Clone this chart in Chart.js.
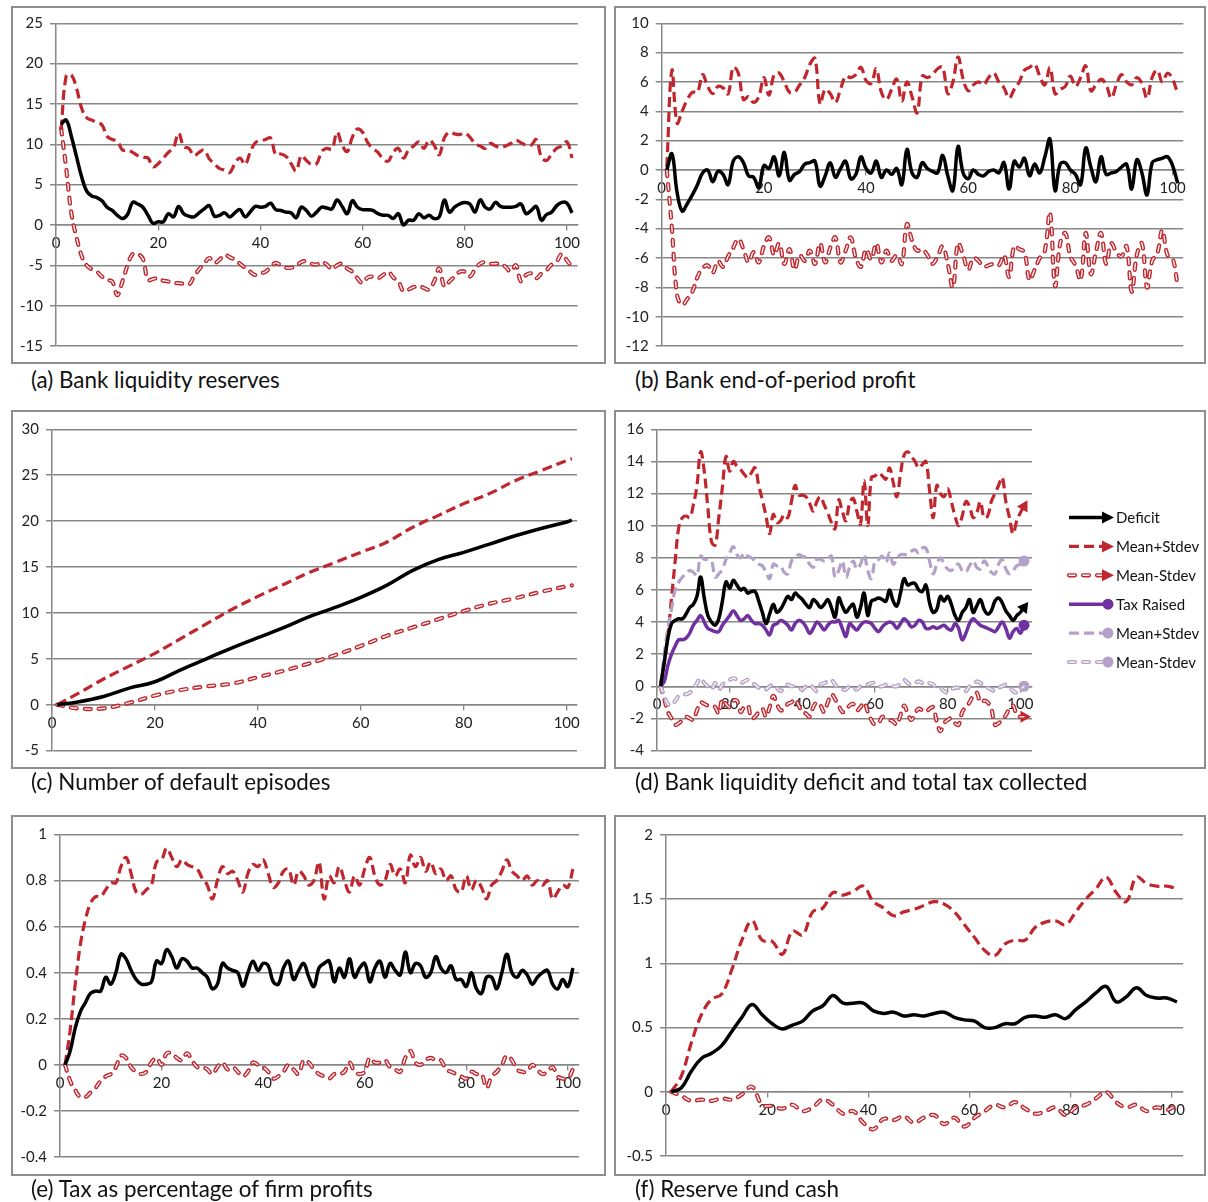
<!DOCTYPE html>
<html>
<head>
<meta charset="utf-8">
<script src="https://cdn.jsdelivr.net/npm/chart.js@4.4.1/dist/chart.umd.min.js"></script>
<style>
body{margin:0;background:#fff;width:1208px;height:1202px;position:relative;overflow:hidden;font-family:Lato,"Open Sans",sans-serif}
.box{position:absolute;border:2px solid #8e8e8e;box-sizing:border-box}
canvas{position:absolute}
.cap{position:absolute;font-size:22.4px;line-height:26px;color:#111;white-space:nowrap}
</style>
</head>
<body>
<script>
// time steps of the simulation
const steps = Array.from({length: 101}, (_, i) => i + 1);
const stepsOdd = steps.filter(s => s % 2 === 1);
const stepsC = [1, 5, 10, 15, 20, 25, 30, 35, 40, 45, 50, 55, 60, 65, 70, 75, 80, 85, 90, 95, 100, 101];
const xTicks = [0, 20, 40, 60, 80, 100];

const captions = ['(a) Bank liquidity reserves', '(b) Bank end-of-period profit', '(c) Number of default episodes',
  '(d) Bank liquidity deficit and total tax collected', '(e) Tax as percentage of firm profits', '(f) Reserve fund cash'];
const legendLabels = ['Deficit', 'Mean+Stdev', 'Mean-Stdev', 'Tax Raised', 'Mean+Stdev', 'Mean-Stdev'];

// (a) bank liquidity reserves
const aMean = [12.5, 13.0, 11.0, 8.5, 6.0, 4.2, 3.6, 3.4, 3.0, 2.2,
  1.8, 1.2, 0.8, 1.3, 2.8, 2.6, 2.2, 1.2, 0.2, 0.4,
  0.4, 1.4, 1.0, 2.3, 1.4, 1.1, 1.0, 1.5, 2.0, 2.4,
  1.1, 1.2, 1.5, 1.0, 1.5, 1.9, 1.0, 1.6, 2.3, 2.2,
  2.3, 2.7, 1.9, 1.8, 1.6, 1.5, 0.9, 2.2, 1.8, 1.1,
  1.6, 2.2, 2.1, 2.0, 3.1, 2.3, 1.4, 3.0, 2.2, 1.9,
  1.9, 1.8, 1.4, 1.2, 1.2, 0.8, 1.4, 0.0, 0.6, 0.6,
  1.4, 0.9, 1.2, 0.8, 1.0, 3.1, 1.6, 2.2, 2.6, 2.8,
  2.6, 1.6, 3.1, 2.2, 2.0, 2.8, 2.3, 2.2, 2.2, 2.3,
  2.6, 1.4, 1.8, 2.3, 0.6, 1.3, 1.6, 2.4, 2.8, 2.7,
  1.5];
const aPlus = [11.8, 18.5, 18.6, 17.0, 14.5, 13.3, 13.0, 12.7, 12.4, 11.0,
  10.6, 10.4, 9.3, 9.3, 9.0, 8.6, 8.4, 8.3, 7.2, 7.6,
  8.3, 9.0, 9.6, 11.4, 9.7, 9.5, 8.6, 9.0, 9.3, 8.2,
  7.6, 7.0, 6.8, 6.5, 7.6, 8.3, 7.5, 9.0, 10.2, 10.4,
  10.6, 10.8, 8.7, 8.8, 8.5, 7.6, 6.7, 8.6, 8.0, 7.5,
  7.6, 9.1, 9.5, 9.4, 11.5, 9.9, 9.1, 10.9, 11.9, 11.5,
  10.2, 9.5, 9.0, 8.2, 7.9, 9.0, 9.5, 8.3, 9.3, 9.8,
  10.3, 9.5, 10.5, 9.9, 8.7, 10.8, 11.5, 11.3, 11.2, 11.4,
  10.9, 10.1, 9.8, 9.5, 10.1, 9.8, 9.6, 9.8, 10.1, 10.5,
  10.2, 9.9, 9.9, 10.6, 8.4, 8.0, 8.8, 9.5, 9.8, 10.3,
  8.3];
const aMinus = [12.0, 7.0, 1.5, -1.5, -3.8, -5.0, -5.5, -5.8, -6.4, -6.8,
  -7.0, -8.7, -7.0, -5.0, -3.6, -3.6, -4.2, -6.8, -6.7, -6.6,
  -6.9, -7.0, -7.2, -7.2, -7.3, -7.4, -6.4, -5.5, -4.8, -4.1,
  -4.7, -4.3, -3.7, -4.0, -4.3, -4.8, -5.3, -5.8, -6.2, -6.0,
  -5.8, -5.2, -4.7, -5.0, -5.3, -5.3, -5.1, -4.6, -4.5, -4.8,
  -4.9, -4.6, -4.9, -5.5, -5.0, -4.8, -5.4, -5.8, -6.6, -7.2,
  -6.5, -6.4, -6.6, -6.2, -5.8, -6.5, -7.0, -8.2, -8.0, -7.7,
  -7.6, -7.8, -8.0, -7.0, -5.4, -7.6, -7.0, -6.4, -5.8, -5.8,
  -6.4, -5.5, -4.8, -4.6, -4.8, -4.8, -4.8, -5.2, -5.8, -5.0,
  -7.0, -6.2, -6.0, -6.6, -6.0, -5.6, -4.9, -4.5, -3.6, -4.4,
  -5.2];

// (b) bank end-of-period profit
const bMean = [0.0, 1.1, -1.5, -2.8, -2.3, -1.7, -1.0, -0.2, 0.0, -0.8,
  -0.1, -0.3, -1.0, 0.6, 0.9, 0.5, -0.4, -0.5, -1.2, 0.3,
  0.1, 0.9, -0.4, 1.2, -0.7, -0.3, -0.1, 0.4, 0.5, 0.6,
  -1.1, -0.4, 0.5, -0.5, 0.1, 0.6, -0.6, -0.3, 0.9, 0.1,
  -0.2, 0.6, -0.5, 0.0, -0.3, 0.1, -1.0, 1.4, -0.2, -0.5,
  0.5, 0.1, -0.1, -0.2, 1.0, -0.4, -1.4, 1.6, -0.2, -0.6,
  0.0, -0.3, -0.4, -0.1, 0.0, -0.2, 0.5, -1.3, 0.6, 0.2,
  0.8, -0.4, 0.4, -0.2, 0.9, 2.1, -1.4, 0.4, 0.5, 0.0,
  -0.3, -1.0, 1.5, 0.2, -0.8, 0.9, -0.3, -0.2, -0.1, 0.2,
  0.4, -1.3, 0.7, -0.2, -1.7, 0.5, 0.7, 0.8, 0.9, 0.3,
  -0.9];
const bPlus = [0.2, 6.8, 3.2, 4.0, 4.8, 5.3, 5.3, 6.5, 5.7, 5.2,
  5.7, 5.6, 5.2, 7.0, 6.6, 4.8, 5.0, 4.6, 5.0, 6.3,
  5.1, 6.5, 6.6, 6.0, 5.3, 5.3, 5.8, 6.3, 7.2, 7.6,
  4.5, 5.5, 5.2, 4.6, 5.5, 6.4, 6.3, 6.5, 7.0, 6.1,
  5.9, 6.9, 5.3, 4.8, 5.5, 6.2, 4.7, 6.0, 5.0, 3.9,
  6.4, 6.3, 6.5, 6.9, 7.0, 5.2, 6.0, 7.7, 6.2, 5.4,
  5.8, 6.0, 5.8, 6.3, 6.6, 6.0, 5.6, 4.9, 5.5, 6.0,
  6.8, 7.0, 7.2, 6.4, 5.8, 7.0, 5.2, 5.5, 5.7, 6.4,
  5.7, 6.3, 7.1, 5.4, 5.8, 6.2, 5.8, 4.9, 5.8, 6.5,
  6.0, 5.8, 6.3, 5.9, 4.9, 6.3, 6.8, 6.0, 6.6, 6.2,
  5.2];
const bMinus = [0.0, -4.0, -8.5, -9.2, -8.8, -8.3, -7.3, -6.7, -6.5, -7.0,
  -6.2, -6.6, -5.9, -5.3, -4.7, -5.4, -6.3, -5.6, -6.3, -5.2,
  -4.6, -5.8, -5.0, -6.4, -5.4, -6.8, -5.8, -6.2, -5.5, -6.4,
  -5.0, -6.3, -5.3, -4.6, -6.3, -5.5, -4.6, -6.0, -6.6, -5.4,
  -6.1, -5.0, -6.3, -5.5, -6.2, -5.8, -6.4, -3.7, -4.8, -5.5,
  -5.4, -5.8, -6.4, -5.9, -5.2, -6.4, -8.0, -5.0, -5.8, -6.8,
  -6.0, -6.2, -6.6, -6.5, -6.4, -6.5, -5.8, -7.3, -5.2, -5.4,
  -5.6, -7.5, -6.8, -6.0, -5.5, -2.9, -7.9, -5.0, -4.3, -5.9,
  -6.5, -7.5, -4.3, -7.1, -5.6, -4.3, -6.4, -5.0, -5.6, -5.9,
  -5.2, -8.3, -5.8, -5.0, -8.0, -6.2, -5.7, -4.1, -5.8, -6.0,
  -7.9];

// (c) number of default episodes (smooth, sampled every 5 steps)
const cMean = [0.0, 0.3, 0.9, 1.8, 2.5, 3.8, 5.0, 6.2, 7.3, 8.4, 9.6, 10.6, 11.7, 13.0, 14.6, 15.8, 16.6, 17.5, 18.4, 19.2, 19.9, 20.1];
const cPlus = [0.0, 1.2, 2.8, 4.2, 5.6, 7.2, 8.8, 10.4, 11.8, 13.1, 14.4, 15.5, 16.6, 17.7, 19.3, 20.6, 21.9, 23.0, 24.4, 25.5, 26.6, 26.8];
const cMinus = [0.0, -0.4, -0.4, 0.2, 1.0, 1.6, 2.0, 2.3, 3.0, 3.7, 4.5, 5.4, 6.4, 7.5, 8.4, 9.3, 10.2, 11.0, 11.6, 12.3, 12.9, 13.0];

// (d) liquidity deficit and tax raised
const dDeficit = [0.0, 1.5, 3.0, 3.9, 4.1, 4.2, 4.2, 4.5, 4.9, 5.1,
  5.6, 6.8, 5.5, 4.4, 4.0, 3.8, 4.2, 5.3, 6.5, 6.1,
  6.6, 6.3, 6.0, 6.1, 5.8, 5.9, 5.9, 5.3, 4.6, 3.9,
  4.5, 5.1, 4.6, 4.8, 5.2, 5.6, 5.4, 5.8, 5.6, 5.4,
  5.1, 4.9, 5.4, 5.2, 4.9, 5.1, 5.4, 4.9, 4.3, 5.5,
  5.0, 4.6, 4.9, 5.1, 4.3, 4.9, 5.8, 4.4, 5.3, 5.4,
  5.5, 5.4, 5.3, 6.0, 5.3, 5.0, 5.8, 6.7, 6.3, 6.4,
  6.4, 6.0, 5.9, 6.3, 5.2, 4.6, 4.8, 5.6, 5.3, 5.6,
  5.1, 4.4, 4.1, 4.6, 4.9, 5.4, 4.6, 5.0, 5.4, 4.8,
  4.5, 4.7, 5.3, 5.5, 5.2, 4.7, 4.4, 4.1, 4.4, 4.6,
  4.9];
const dDefPlus = [0.2, 1.5, 3.2, 5.5, 7.8, 9.9, 10.5, 10.6, 10.5, 11.3,
  12.5, 14.6, 13.4, 11.1, 9.0, 8.8, 10.5, 12.4, 14.3, 13.4,
  14.0, 13.7, 13.5, 13.2, 13.0, 13.3, 13.6, 12.5, 11.6, 10.6,
  9.5, 10.7, 10.2, 10.3, 10.7, 10.5, 11.5, 12.5, 11.9, 11.9,
  11.8, 11.4, 10.9, 11.5, 11.8, 11.3, 10.8, 10.2, 9.8, 11.6,
  10.9, 10.3, 11.4, 11.7, 10.9, 10.1, 12.8, 10.0, 13.0, 13.1,
  13.3, 13.1, 12.9, 13.6, 12.7, 11.8, 13.2, 14.4, 14.6, 14.3,
  14.0, 13.6, 13.8, 14.0, 12.2, 10.5, 12.5, 12.0, 11.8, 12.3,
  11.5, 10.6, 10.0, 10.6, 11.5, 11.2, 10.5, 10.8, 11.5, 10.5,
  10.6, 11.5, 12.0, 12.5, 13.0, 11.5, 10.5, 9.5, 10.3, 10.8,
  11.2];
const dDefMinus = [0.0, -0.8, -1.6, -2.0, -2.4, -2.3, -2.1, -1.9, -2.0, -2.1,
  -1.5, -1.0, -1.1, -1.2, -1.2, -1.3, -1.7, -0.8, -1.1, -1.3,
  -0.9, -0.9, -1.6, -1.3, -1.2, -2.0, -1.9, -1.6, -1.4, -1.9,
  -1.3, -0.6, -1.1, -1.5, -1.4, -1.1, -1.0, -0.8, -1.2, -1.6,
  -1.7, -1.9, -1.3, -1.0, -1.2, -1.6, -1.0, -0.5, -0.8, -1.2,
  -1.6, -1.5, -1.2, -1.1, -1.5, -1.3, -1.0, -1.6, -2.1, -2.4,
  -2.3, -1.9, -2.0, -2.1, -2.2, -2.4, -1.8, -1.2, -1.7, -2.1,
  -1.7, -1.4, -1.5, -1.6, -1.4, -1.3, -2.2, -2.8, -2.3, -2.1,
  -2.0, -2.3, -2.4, -1.6, -1.3, -1.0, -0.6, -0.4, -1.0, -0.9,
  -1.0, -1.4, -2.4, -2.3, -2.1, -1.8, -1.4, -1.2, -1.8, -1.9,
  -1.9];
const dTax = [0.0, 0.3, 1.3, 2.0, 2.5, 2.9, 2.9, 3.0, 3.3, 3.8,
  4.1, 4.4, 4.0, 3.6, 3.5, 3.4, 3.4, 3.8, 4.1, 4.4,
  4.7, 4.4, 4.1, 4.2, 4.4, 4.1, 3.9, 3.9, 3.8, 3.5,
  3.2, 3.8, 3.9, 4.1, 4.0, 3.8, 3.5, 3.9, 4.1, 4.0,
  3.7, 3.3, 3.6, 4.0, 3.8, 3.5, 3.8, 4.0, 4.0, 4.1,
  3.6, 3.1, 3.9, 3.7, 3.5, 3.8, 4.0, 4.0, 3.9, 3.6,
  3.4, 3.7, 3.9, 4.0, 3.9, 3.6, 3.9, 4.2, 4.0, 3.7,
  3.8, 4.1, 4.0, 3.6, 3.6, 3.7, 3.6, 3.7, 3.8, 3.6,
  3.5, 3.9, 3.6, 2.9, 3.3, 3.9, 4.2, 4.0, 3.8, 3.7,
  3.6, 3.5, 3.4, 3.7, 4.0, 3.6, 3.0, 3.4, 3.6, 3.3,
  3.8];
const dTaxPlus = [0.0, 2.0, 3.6, 4.8, 6.0, 6.5, 6.8, 7.0, 7.2, 7.1,
  6.9, 8.1, 7.9, 7.9, 7.8, 6.8, 7.0, 7.3, 7.9, 8.3,
  8.7, 8.2, 8.0, 8.3, 8.1, 8.0, 7.8, 7.6, 7.5, 7.1,
  6.7, 7.6, 7.5, 7.5, 7.1, 7.0, 7.8, 8.0, 8.2, 8.1,
  8.0, 7.6, 7.4, 7.9, 7.9, 7.8, 7.9, 8.1, 6.8, 7.2,
  7.8, 6.8, 7.4, 7.8, 7.3, 7.6, 8.2, 7.2, 6.7, 7.8,
  7.9, 8.1, 7.7, 8.3, 7.6, 7.9, 8.2, 8.2, 8.2, 8.4,
  8.5, 8.3, 8.6, 8.6, 7.8, 7.0, 7.6, 8.0, 7.6, 7.3,
  7.2, 7.5, 7.6, 7.2, 7.1, 7.5, 7.8, 7.4, 7.3, 7.8,
  7.5, 7.1, 7.0, 7.6, 7.9, 7.3, 7.0, 7.2, 7.5, 7.6,
  7.8];
const dTaxMinus = [0.0, -0.6, -1.1, -1.2, -0.9, -0.6, -0.5, -0.5, -0.4, -0.2,
  0.2, 0.5, 0.2, 0.0, -0.2, 0.2, -0.2, 0.1, 0.3, 0.4,
  0.5, 0.4, 0.2, 0.3, 0.4, 0.2, 0.1, -0.1, -0.2, -0.2,
  0.0, 0.1, -0.1, -0.3, -0.1, 0.1, 0.0, 0.0, -0.1, -0.2,
  0.0, 0.1, -0.1, -0.3, 0.1, 0.2, 0.3, 0.4, 0.1, -0.1,
  -0.2, -0.2, 0.0, -0.1, -0.2, 0.0, 0.1, 0.1, 0.2, 0.2,
  0.0, 0.0, 0.1, 0.1, 0.0, 0.0, 0.2, 0.4, 0.2, 0.1,
  0.2, 0.3, 0.2, 0.1, 0.2, 0.1, -0.1, -0.1, -0.3, -0.4,
  -0.2, -0.1, -0.1, -0.2, -0.3, 0.0, 0.1, 0.3, 0.2, 0.0,
  -0.1, -0.2, -0.3, -0.1, 0.0, 0.1, 0.0, -0.3, -0.4, -0.2,
  0.0];

// (e) tax as share of firm profits
const eMean = [0.0, 0.06, 0.16, 0.23, 0.27, 0.31, 0.32, 0.32, 0.38, 0.35,
  0.40, 0.48, 0.46, 0.41, 0.37, 0.35, 0.35, 0.36, 0.45, 0.44,
  0.50, 0.47, 0.42, 0.46, 0.45, 0.42, 0.42, 0.40, 0.38, 0.33,
  0.35, 0.44, 0.42, 0.41, 0.40, 0.34, 0.40, 0.45, 0.41, 0.44,
  0.43, 0.36, 0.35, 0.42, 0.45, 0.37, 0.41, 0.44, 0.38, 0.34,
  0.42, 0.44, 0.45, 0.36, 0.42, 0.38, 0.46, 0.38, 0.42, 0.44,
  0.36, 0.42, 0.45, 0.38, 0.44, 0.41, 0.39, 0.49, 0.40, 0.44,
  0.43, 0.38, 0.40, 0.47, 0.42, 0.40, 0.43, 0.37, 0.37, 0.34,
  0.40, 0.33, 0.31, 0.38, 0.38, 0.33, 0.40, 0.48, 0.40, 0.38,
  0.41, 0.39, 0.35, 0.38, 0.40, 0.41, 0.35, 0.33, 0.37, 0.34,
  0.42];
const ePlus = [0.0, 0.15, 0.35, 0.52, 0.63, 0.70, 0.73, 0.73, 0.76, 0.79,
  0.79, 0.86, 0.90, 0.83, 0.75, 0.74, 0.76, 0.78, 0.88, 0.89,
  0.94, 0.90, 0.86, 0.89, 0.87, 0.86, 0.85, 0.81, 0.78, 0.72,
  0.80, 0.86, 0.83, 0.84, 0.80, 0.75, 0.83, 0.87, 0.86, 0.89,
  0.83, 0.77, 0.79, 0.84, 0.85, 0.78, 0.84, 0.82, 0.78, 0.80,
  0.88, 0.72, 0.82, 0.79, 0.86, 0.80, 0.75, 0.82, 0.78, 0.85,
  0.90, 0.82, 0.78, 0.80, 0.87, 0.82, 0.85, 0.79, 0.91, 0.86,
  0.90, 0.84, 0.88, 0.83, 0.85, 0.80, 0.82, 0.76, 0.75, 0.82,
  0.76, 0.80, 0.77, 0.72, 0.78, 0.80, 0.84, 0.89, 0.84, 0.82,
  0.80, 0.82, 0.78, 0.80, 0.78, 0.80, 0.72, 0.75, 0.78, 0.77,
  0.85];
const eMinus = [0.0, -0.07, -0.11, -0.14, -0.14, -0.12, -0.10, -0.07, -0.05, -0.04,
  -0.01, 0.04, 0.03, -0.01, -0.03, -0.04, -0.03, 0.01, 0.03, 0.0,
  0.05, 0.05, 0.03, 0.02, 0.05, 0.02, -0.01, -0.01, -0.02, -0.04,
  -0.01, 0.01, -0.02, -0.01, -0.03, -0.05, -0.03, 0.01, 0.0, -0.01,
  -0.03, -0.06, -0.05, -0.03, 0.0, -0.02, -0.04, 0.02, 0.01, -0.02,
  -0.04, -0.05, -0.06, -0.04, -0.04, -0.03, 0.01, -0.03, -0.04, -0.03,
  0.03, 0.01, 0.01, 0.02, -0.01, -0.02, -0.03, 0.03, 0.06, 0.01,
  0.0, 0.02, 0.03, 0.02, 0.02, -0.02, -0.03, -0.04, -0.05, -0.06,
  -0.03, -0.04, -0.04, -0.10, -0.05, -0.03, 0.0, 0.04, 0.02, -0.02,
  -0.03, -0.03, 0.0, -0.02, -0.04, -0.03, -0.01, -0.05, -0.06, -0.06,
  -0.02];

// (f) reserve fund cash (every other step)
const fMean = [0.0, 0.03, 0.16, 0.26, 0.30, 0.36, 0.47, 0.58, 0.68, 0.60,
  0.53, 0.49, 0.52, 0.55, 0.63, 0.67, 0.75, 0.69, 0.69, 0.69,
  0.63, 0.61, 0.62, 0.59, 0.60, 0.59, 0.61, 0.62, 0.58, 0.56,
  0.55, 0.50, 0.50, 0.53, 0.53, 0.58, 0.59, 0.58, 0.60, 0.57,
  0.64, 0.70, 0.77, 0.82, 0.70, 0.74, 0.81, 0.75, 0.73, 0.73,
  0.70];
const fPlus = [0.0, 0.12, 0.38, 0.60, 0.72, 0.76, 0.95, 1.18, 1.33, 1.18,
  1.17, 1.07, 1.25, 1.22, 1.40, 1.43, 1.55, 1.53, 1.56, 1.60,
  1.48, 1.43, 1.37, 1.40, 1.42, 1.45, 1.48, 1.46, 1.40, 1.30,
  1.20, 1.10, 1.06, 1.15, 1.18, 1.18, 1.28, 1.32, 1.33, 1.30,
  1.40, 1.50, 1.58, 1.67, 1.55, 1.48, 1.67, 1.62, 1.60, 1.60,
  1.58];
const fMinus = [0.0, -0.03, -0.07, -0.06, -0.07, -0.05, -0.06, -0.02, 0.04, -0.10,
  -0.11, -0.13, -0.10, -0.15, -0.12, -0.06, -0.10, -0.17, -0.15, -0.24,
  -0.29, -0.21, -0.22, -0.19, -0.24, -0.20, -0.18, -0.25, -0.20, -0.27,
  -0.20, -0.15, -0.10, -0.12, -0.08, -0.13, -0.17, -0.15, -0.12, -0.18,
  -0.12, -0.10, -0.05, 0.0, -0.08, -0.12, -0.10, -0.15, -0.12, -0.14,
  -0.10];

const GRID = '#878787';
const RED = '#c0262d';
const PURPLE = '#7030a0';
const LPURPLE = '#b3a2c7';
const FONT = 'Lato, "Open Sans", sans-serif';

const pts = (xs, ys) => xs.map((x, i) => ({x: x, y: ys[i]}));

function solid(xs, ys, color) {
  return {data: pts(xs, ys), borderColor: color, borderWidth: 3.5};
}
function dashed(xs, ys, color) {
  return {data: pts(xs, ys), borderColor: color, borderWidth: 3.2, borderDash: [10, 5]};
}
// hollow dashed line: coloured outline with pale core
function hollow(xs, ys, color) {
  return [
    {data: pts(xs, ys), borderColor: color, borderWidth: 4.2, borderDash: [6, 8], borderCapStyle: 'round'},
    {data: pts(xs, ys), borderColor: '#fdf2f2', borderWidth: 1.4, borderDash: [6, 8], borderCapStyle: 'round'}
  ];
}

function arrowAngle(c) {
  const d = c.dataset.data, i = c.dataIndex;
  if (i < 1) return 90;
  const sx = c.chart.scales.x, sy = c.chart.scales.y;
  const dx = sx.getPixelForValue(d[i].x) - sx.getPixelForValue(d[i - 1].x);
  const dy = sy.getPixelForValue(d[i].y) - sy.getPixelForValue(d[i - 1].y);
  return Math.atan2(dy, dx) * 180 / Math.PI + 90;
}
function endMark(ds, style, color) {
  ds.pointStyle = style;
  ds.pointRadius = c => c.dataIndex === c.dataset.data.length - 1 ? (style === 'circle' ? 5.5 : 7) : 0;
  ds.pointBackgroundColor = color;
  ds.pointBorderWidth = 0;
  if (style === 'triangle') ds.pointRotation = arrowAngle;
  return ds;
}

const fmt = v => String(+(+v).toFixed(2));

function panel(box, plot, yMin, yMax, yStep, xMax, datasets, plugins) {
  const w = box[2] - box[0], h = box[3] - box[1];
  const frame = document.createElement('div');
  frame.className = 'box';
  Object.assign(frame.style, {left: box[0] + 'px', top: box[1] + 'px', width: w + 'px', height: h + 'px'});
  document.body.appendChild(frame);
  const cv = document.createElement('canvas');
  cv.width = w; cv.height = h;
  cv.style.left = box[0] + 'px'; cv.style.top = box[1] + 'px';
  document.body.appendChild(cv);
  // later entries are painted on top
  datasets.forEach((d, i) => { d.order = datasets.length - i; });
  const yw = plot[0] - box[0];
  return new Chart(cv, {
    type: 'line',
    data: {datasets: datasets},
    options: {
      responsive: false,
      animation: false,
      layout: {padding: {left: 0, top: plot[1] - box[1], right: box[2] - plot[2], bottom: box[3] - plot[3]}},
      elements: {point: {radius: 0}, line: {tension: 0.4, fill: false}},
      plugins: {legend: {display: false}, tooltip: {enabled: false}},
      scales: {
        x: {
          type: 'linear', min: 0, max: xMax, position: {y: 0},
          afterBuildTicks: s => { s.ticks = xTicks.map(v => ({value: v})); },
          ticks: {font: {family: FONT, size: 15}, color: '#222', padding: 4, maxRotation: 0},
          grid: {drawOnChartArea: false, tickLength: 5, color: GRID, lineWidth: 1.3},
          border: {color: GRID, width: 1.5}
        },
        y: {
          min: yMin, max: yMax,
          ticks: {stepSize: yStep, font: {family: FONT, size: 15}, color: '#222', padding: 7, callback: fmt},
          grid: {color: GRID, lineWidth: 1.5, tickLength: 6},
          border: {color: GRID, width: 1.5},
          afterFit: s => { s.width = yw; }
        }
      }
    },
    plugins: plugins || []
  });
}

function caption(text, x, y) {
  const el = document.createElement('div');
  el.className = 'cap';
  el.textContent = text;
  el.style.left = x + 'px';
  el.style.top = (y - 14) + 'px';
  document.body.appendChild(el);
}

// legend for panel (d)
const legendD = {
  id: 'legendD',
  afterDraw(chart) {
    const c = chart.ctx;
    const styles = [
      {color: '#000', w: 3.5, dash: [], mark: 'tri'},
      {color: RED, w: 3.2, dash: [10, 5], mark: 'tri'},
      {color: RED, w: 4.2, dash: [6, 8], mark: 'tri', hollow: true},
      {color: PURPLE, w: 3.5, dash: [], mark: 'dot'},
      {color: LPURPLE, w: 3.2, dash: [10, 5], mark: 'dot'},
      {color: LPURPLE, w: 4.2, dash: [6, 8], mark: 'dot', hollow: true}
    ];
    const x0 = 455, x1 = 492, tx = 502;
    c.save();
    styles.forEach((s, k) => {
      const y = 107.5 + k * 28.9;
      c.lineCap = s.hollow ? 'round' : 'butt';
      c.setLineDash(s.dash);
      c.strokeStyle = s.color; c.lineWidth = s.w;
      c.beginPath(); c.moveTo(x0, y); c.lineTo(x1, y); c.stroke();
      if (s.hollow) {
        c.strokeStyle = '#fdf2f2'; c.lineWidth = 1.4;
        c.beginPath(); c.moveTo(x0, y); c.lineTo(x1, y); c.stroke();
      }
      c.setLineDash([]);
      c.fillStyle = s.color;
      c.beginPath();
      if (s.mark === 'tri') {
        c.moveTo(x1 - 4, y - 6); c.lineTo(x1 + 8, y); c.lineTo(x1 - 4, y + 6);
      } else {
        c.arc(x1 + 2, y, 5.5, 0, Math.PI * 2);
      }
      c.fill();
      c.fillStyle = '#111';
      c.font = '15px ' + FONT;
      c.textBaseline = 'middle';
      c.fillText(legendLabels[k], tx, y + 1);
    });
    c.restore();
  }
};

// (a)
panel([11, 6, 606, 364], [56, 23.3, 577.7, 346], -15, 25, 5, 102.1, [
  ...hollow(steps, aMinus, RED),
  dashed(steps, aPlus, RED),
  solid(steps, aMean, '#000')
]);
// (b)
panel([614, 6, 1206, 364], [661.7, 23.3, 1183.3, 346], -12, 10, 2, 102.1, [
  ...hollow(steps, bMinus, RED),
  dashed(steps, bPlus, RED),
  solid(steps, bMean, '#000')
]);
// (c)
panel([11, 410, 606, 769], [52, 429.3, 577, 750.6], -5, 30, 5, 102, [
  ...hollow(stepsC, cMinus, RED),
  dashed(stepsC, cPlus, RED),
  solid(stepsC, cMean, '#000')
]);
// (d)
const dMinusRed = hollow(steps, dDefMinus, RED);
endMark(dMinusRed[0], 'triangle', RED);
const dMinusPur = hollow(steps, dTaxMinus, LPURPLE);
endMark(dMinusPur[0], 'circle', LPURPLE);
panel([614, 410, 1206, 769], [657, 429.3, 1032, 750.5], -4, 16, 2, 103.2, [
  ...dMinusRed,
  endMark(dashed(steps, dDefPlus, RED), 'triangle', RED),
  ...dMinusPur,
  endMark(dashed(steps, dTaxPlus, LPURPLE), 'circle', LPURPLE),
  endMark(solid(steps, dTax, PURPLE), 'circle', PURPLE),
  endMark(solid(steps, dDeficit, '#000'), 'triangle', '#000')
], [legendD]);
// (e)
panel([11, 815, 606, 1176], [60, 834.4, 579, 1157], -0.4, 1, 0.2, 102.2, [
  ...hollow(steps, eMinus, RED),
  dashed(steps, ePlus, RED),
  solid(steps, eMean, '#000')
]);
// (f)
panel([614, 815, 1206, 1176], [666, 834.7, 1183, 1156.2], -0.5, 2, 0.5, 102.2, [
  ...hollow(stepsOdd, fMinus, RED),
  dashed(stepsOdd, fPlus, RED),
  solid(stepsOdd, fMean, '#000')
]);

caption(captions[0], 31, 381);
caption(captions[1], 635, 381);
caption(captions[2], 31, 783);
caption(captions[3], 635, 783);
caption(captions[4], 31, 1190);
caption(captions[5], 635, 1190);
</script>
</body>
</html>
